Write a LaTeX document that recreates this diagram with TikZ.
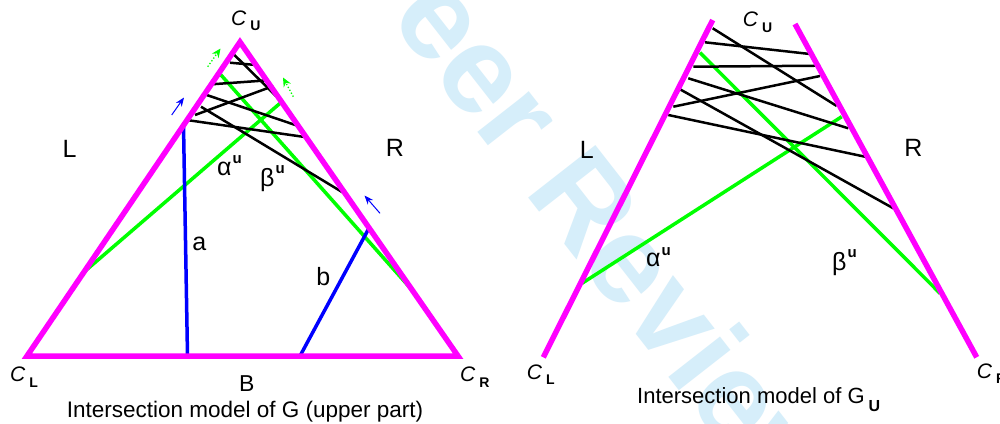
\documentclass[tikz,border=0pt]{standalone}
\usepackage{fontspec}
\setmainfont{Liberation Sans}
\usetikzlibrary{arrows.meta}
\definecolor{mag}{RGB}{255,0,255}
\definecolor{grn}{RGB}{0,255,0}
\definecolor{blu}{RGB}{0,0,255}
\definecolor{wmark}{RGB}{214,238,250}
\newcommand{\Clab}[1]{\textit{C}\hspace{4pt}\raisebox{-5.5pt}{\fontsize{14}{14}\selectfont\bfseries #1}}
\newcommand{\supu}[2]{#1\hspace{1pt}\raisebox{#2}{\fontsize{15}{15}\selectfont\bfseries u}}
\begin{document}
\begin{tikzpicture}[x=1pt,y=-1pt,
  magline/.style={mag, line width=5.5pt, line join=miter},
  chord/.style={black, line width=2.5pt},
  gline/.style={grn, line width=3.5pt},
  bline/.style={blu, line width=3.5pt},
  barrow/.style={blu, line width=1pt, -{Stealth[length=9pt,width=7pt]}},
  garrow/.style={grn, line width=1.3pt, dotted, -{Stealth[length=9pt,width=8pt]}},
  lab/.style={font=\fontsize{25}{25}\selectfont, inner sep=0pt},
  clab/.style={font=\fontsize{21}{21}\selectfont, inner sep=0pt, anchor=base west},
  captext/.style={font=\fontsize{22.5}{22.5}\selectfont, inner sep=0pt, anchor=base}]
\useasboundingbox (0,0) rectangle (1000,423);
\fill[white] (0,0) rectangle (1000,423);
% watermark
\begin{scope}
\clip (0,0) rectangle (1000,423);
\node[rotate=-52, anchor=base west, inner sep=0pt, text=wmark,
  font=\fontsize{124}{124}\selectfont\bfseries] (wm) at (337,-48) {Peer Review};
\end{scope}

% ---------- left figure ----------
\coordinate (CL) at (27,356);
\coordinate (CR) at (458,356);
\coordinate (CU) at (240,42);

% green lines
\coordinate (ga1) at (280,103.3); \coordinate (ga2) at (84,272);
\coordinate (gb1) at (219.5,73.3); \coordinate (gb2) at (412,290);
\draw[gline] (ga1) -- (ga2);
\draw[gline] (gb1) -- (gb2);

% chords
\coordinate (a1) at (232.7,53.3); \coordinate (b1) at (276,96);
\coordinate (a2) at (230,62.7);   \coordinate (b2) at (256,65);
\coordinate (a3) at (211.7,84.3); \coordinate (b3) at (265,80.5);
\coordinate (a4) at (195,115);    \coordinate (b4) at (273.3,86);
\coordinate (a5) at (206.7,95);   \coordinate (b5) at (298.3,126);
\coordinate (a6) at (186.7,120);  \coordinate (b6) at (306.7,137.3);
\coordinate (a7) at (201,106.7);  \coordinate (b7) at (347,195);
\foreach \i in {1,...,7} \draw[chord] (a\i) -- (b\i);

% blue lines
\coordinate (la1) at (183.5,125); \coordinate (la2) at (187.5,356);
\coordinate (lb1) at (368.5,229); \coordinate (lb2) at (300,356);
\draw[bline] (la1) -- (la2);
\draw[bline] (lb1) -- (lb2);

% triangle
\draw[magline] (CL) -- (CR) -- (CU) -- cycle;

% small arrows
\coordinate (ba1t) at (171.7,115); \coordinate (ba1h) at (184,97.5);
\coordinate (ba2t) at (380,213.3); \coordinate (ba2h) at (364.5,195.5);
\draw[barrow] (ba1t) -- (ba1h);
\draw[barrow] (ba2t) -- (ba2h);
\coordinate (ga1t) at (207.7,66.7); \coordinate (ga1h) at (220.5,48.5);
\coordinate (ga2t) at (293.3,96.7); \coordinate (ga2h) at (283,77.5);
\draw[garrow] (ga1t) -- (ga1h);
\draw[garrow] (ga2t) -- (ga2h);

% labels
\node[lab] (lL) at (69.5,149.2) {L};
\node[lab] (lR) at (395,148.3) {R};
\node[lab, anchor=base west] (lal) at (217,175) {\supu{α}{12pt}};
\node[lab, anchor=base west] (lbe) at (260,186) {\supu{β}{13pt}};
\node[lab] (la) at (199.3,244.3) {a};
\node[lab] (lb) at (323.3,276.7) {b};
\node[lab, font=\fontsize{23}{23}\selectfont] (lB) at (246.7,383.3) {B};
\node[clab] (lCU) at (231,25) {\Clab{U}};
\node[clab] (lCL) at (10,381.7) {\Clab{L}};
\node[clab] (lCR) at (460,381.7) {\Clab{R}};
\node[captext] (cap1) at (245,417.5) {Intersection model of G (upper part)};

% ---------- right figure ----------
\coordinate (rL1) at (712.7,20);  \coordinate (rL2) at (543.3,357.3);
\coordinate (rR1) at (795,24);    \coordinate (rR2) at (976.7,357.3);

\coordinate (rga1) at (841.7,116.7); \coordinate (rga2) at (582,283.3);
\coordinate (rgb1) at (700,52.7);    \coordinate (rgb2) at (940,293.3);
\draw[gline] (rga1) -- (rga2);
\draw[gline] (rgb1) -- (rgb2);

\coordinate (ra1) at (712.7,28.3); \coordinate (rb1) at (836.7,106);
\coordinate (ra2) at (705,42.3);   \coordinate (rb2) at (810,54);
\coordinate (ra3) at (693.3,66.7); \coordinate (rb3) at (820,65.7);
\coordinate (ra4) at (673.3,106.7);\coordinate (rb4) at (820,76);
\coordinate (ra5) at (688.3,78.3); \coordinate (rb5) at (848.3,128.3);
\coordinate (ra6) at (668.3,115);  \coordinate (rb6) at (865,156.7);
\coordinate (ra7) at (680,89.3);   \coordinate (rb7) at (893.3,208.3);
\foreach \i in {1,...,7} \draw[chord] (ra\i) -- (rb\i);

\draw[magline] (rL1) -- (rL2);
\draw[magline] (rR1) -- (rR2);

\node[lab] (rLl) at (586.7,150) {L};
\node[lab] (rRl) at (913.3,148.3) {R};
\node[lab, anchor=base west] (ral) at (646,266) {\supu{α}{11pt}};
\node[lab, anchor=base west] (rbe) at (832,270) {\supu{β}{13pt}};
\node[clab] (rCU) at (742.7,26.7) {\Clab{U}};
\node[clab] (rCL) at (526.7,379) {\Clab{L}};
\node[clab] (rCR) at (976.7,378) {\Clab{R}};
\node[captext, anchor=base west, font=\fontsize{22}{22}\selectfont] (cap2) at (637,403.3) {Intersection model of G\hspace{4pt}\raisebox{-8pt}{\fontsize{16}{16}\selectfont\bfseries U}};
\end{tikzpicture}
\end{document}
